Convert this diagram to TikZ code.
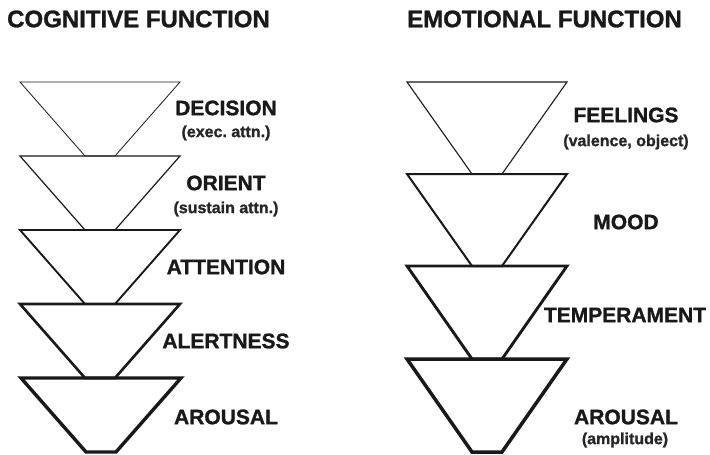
\documentclass[tikz,border=0pt]{standalone}
\usepackage{fontspec}
\setmainfont{Liberation Sans}[BoldFeatures={FakeBold=1.2}]
\frenchspacing
\begin{document}
\begin{tikzpicture}[x=1pt,y=-1pt,
  title/.style={font=\fontsize{24}{26}\selectfont\bfseries, anchor=west, inner sep=0pt, text=black!90},
  lab/.style={font=\fontsize{21}{23}\selectfont\bfseries, inner sep=0pt, text=black!90},
  sub/.style={font=\fontsize{16}{18}\selectfont\bfseries, inner sep=0pt, text=black!85},
  funnel/.style={draw=black!90, line join=miter, fill=none}]
\useasboundingbox (0,0) rectangle (710,455);
% titles
\node[title] (tcog) at (7,19) {COGNITIVE FUNCTION};
\node[title] (temo) at (407,19) {EMOTIONAL FUNCTION};
% funnels: cx, ytop, ybot, line width
\newcommand{\funnelshape}[4]{%
  \draw[funnel, line width=#4] (#1-80,#2) -- (#1+80,#2) -- (#1+15,#3) -- (#1-15,#3) -- cycle;}
\funnelshape{100}{82}{156}{0.8pt}
\funnelshape{100}{156}{230}{1.2pt}
\funnelshape{100}{230}{304}{1.9pt}
\funnelshape{100}{304}{378}{2.6pt}
\funnelshape{101}{378}{452}{3.4pt}
% left labels
\node[lab] (ldec) at (226,108) {DECISION};
\node[sub] (ldecs) at (226,133) {(exec. attn.)};
\node[lab] (lori) at (226,183) {ORIENT};
\node[sub] (loris) at (226,209) {(sustain attn.)};
\node[lab] (latt) at (226,267) {ATTENTION};
\node[lab] (lale) at (226,341) {ALERTNESS};
\node[lab] (laro) at (226,417) {AROUSAL};
% right column funnels
\funnelshape{487}{82}{174}{1.1pt}
\funnelshape{487}{174}{266}{2.0pt}
\funnelshape{487}{266}{359}{2.9pt}
\funnelshape{487}{359}{452}{3.5pt}
% right labels
\node[lab] (rfee) at (626,115) {FEELINGS};
\node[sub] (rfees) at (626,142) {(valence, object)};
\node[lab] (rmoo) at (626,222) {MOOD};
\node[lab] (rtem) at (625,315) {TEMPERAMENT};
\node[lab] (raro) at (626,417) {AROUSAL};
\node[sub] (raros) at (625,440) {(amplitude)};
\end{tikzpicture}
\end{document}
